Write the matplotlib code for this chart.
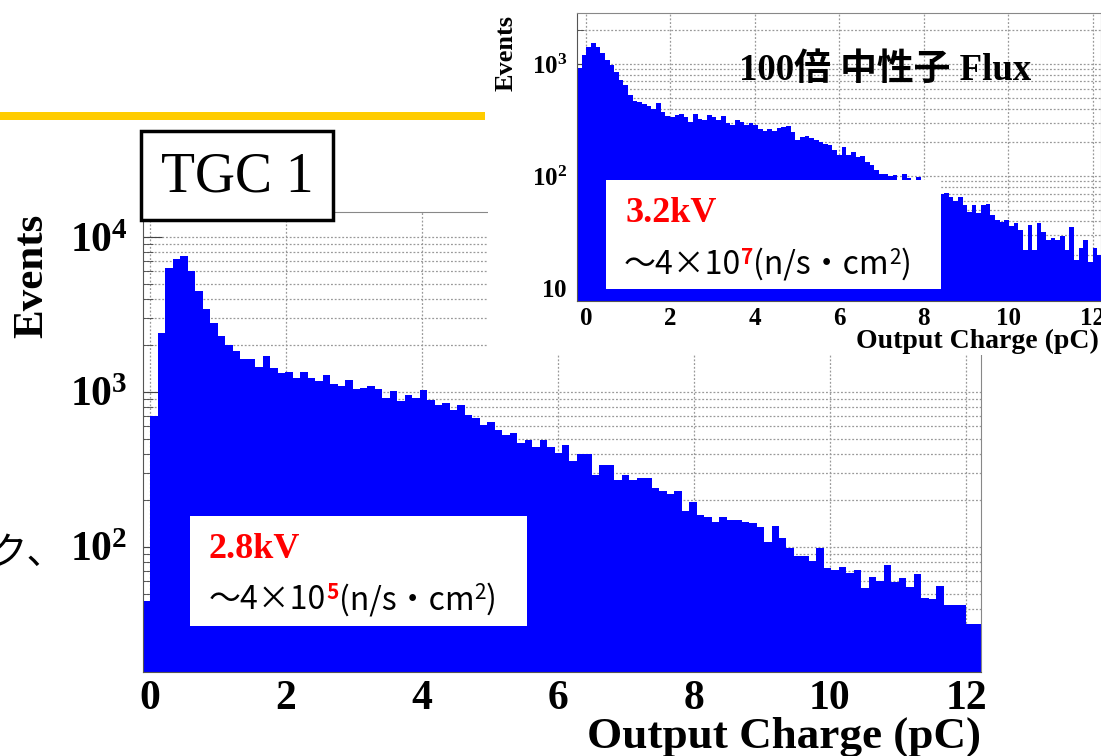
import numpy as np
import matplotlib
matplotlib.use('Agg')
import matplotlib.pyplot as plt
from matplotlib.patches import Rectangle
from matplotlib.ticker import LogLocator, FuncFormatter, NullFormatter, MultipleLocator

plt.rcParams['font.family'] = ['Liberation Serif', 'Noto Sans CJK JP']
plt.rcParams['font.weight'] = 'bold'
plt.rcParams['mathtext.fontset'] = 'custom'
plt.rcParams['mathtext.bf'] = 'Liberation Serif:bold'
plt.rcParams['mathtext.rm'] = 'Liberation Serif:bold'

# main histogram (2.8kV), bin width 0.11 pC starting at -0.1 pC
main_start = -0.1
main_counts = [45, 700, 2400, 6300, 7200, 7500, 6000, 4500, 3430, 2800,
               2300, 2000, 1850, 1640, 1640, 1450, 1700, 1430, 1330, 1340,
               1230, 1340, 1230, 1180, 1290, 1130, 1100, 1200, 1050, 1060,
               1090, 1050, 920, 1010, 880, 960, 910, 1030, 890, 820,
               850, 770, 820, 710, 680, 610, 640, 570, 530, 540,
               470, 490, 440, 490, 440, 404, 455, 360, 400, 395,
               290, 340, 340, 270, 290, 270, 280, 280, 240, 230,
               220, 230, 170, 195, 160, 155, 145, 157, 150, 150,
               145, 143, 135, 108, 137, 115, 98, 88, 88, 81,
               98, 73, 71, 74, 68, 71, 54, 64, 60, 76,
               59, 63, 55, 67, 47, 46, 56, 42, 42, 42,
               32, 32]

# inset histogram (3.2kV, 100x neutron flux)
inset_start = -0.21
inset_counts = [915, 1200, 1430, 1530, 1430, 1250, 1085, 980, 855, 720,
                650, 530, 470, 460, 440, 420, 400, 445, 375, 345,
                335, 350, 360, 335, 305, 360, 320, 315, 350, 335,
                315, 345, 300, 285, 315, 305, 285, 295, 285, 265,
                255, 265, 255, 270, 275, 280, 245, 210, 225, 228,
                217, 210, 203, 195, 189, 170, 155, 183, 155, 165,
                149, 151, 134, 126, 113, 105, 104, 100, 102, 92,
                104, 97, 92, 99, 89, 85, 80, 75, 70, 71,
                65, 60, 65, 55, 48, 55, 47, 55, 57, 45,
                41, 39, 41, 36, 38, 33, 22, 37, 22, 38,
                32, 27, 28, 27, 29, 22, 35, 18, 23, 27,
                17, 23, 20]
bin_w = 0.11

W, H = 1101, 756


def fx(px):
    return px / W


def fy(py):
    return 1 - py / H


def box(x0, y0, x1, y1):
    return [fx(x0), fy(y1), fx(x1) - fx(x0), fy(y0) - fy(y1)]


def log_fmt(v, pos):
    e = int(round(np.log10(v)))
    if e == 1:
        return r'$\mathbf{10}$'
    return r'$\mathbf{10^{%d}}$' % e


def style(ax, fs, major_len, minor_len, pad_x, pad_y):
    ax.set_yscale('log')
    ax.yaxis.set_major_locator(LogLocator(base=10, numticks=20))
    ax.yaxis.set_minor_locator(LogLocator(base=10, subs=np.arange(2, 10), numticks=20))
    ax.yaxis.set_major_formatter(FuncFormatter(log_fmt))
    ax.yaxis.set_minor_formatter(NullFormatter())
    ax.xaxis.set_major_locator(MultipleLocator(2))
    ax.xaxis.set_minor_locator(MultipleLocator(0.5))
    ax.tick_params(which='both', direction='in', color='#444444', labelsize=fs)
    ax.tick_params(which='major', length=major_len)
    ax.tick_params(which='minor', length=minor_len)
    ax.tick_params(axis='x', pad=pad_x)
    ax.tick_params(axis='y', pad=pad_y)
    ax.grid(True, which='major', axis='x', ls=(0, (1.5, 1.5)), color='#999999', lw=0.9)
    ax.grid(True, which='both', axis='y', ls=(0, (1.5, 1.5)), color='#999999', lw=0.9)
    ax.set_axisbelow(True)
    for s in ax.spines.values():
        s.set_color('#888888')
    ax.spines['left'].set_color('#555555')
    ax.spines['bottom'].set_color('#555555')


fig = plt.figure(figsize=(W / 100, H / 100), dpi=100)

# slide decoration behind the plots
fig.add_artist(Rectangle((0, fy(120)), fx(485), fy(112) - fy(120),
                         color='#ffcc00', lw=0, zorder=1))
fig.text(fx(64), fy(553), 'ク、', family='Noto Sans CJK JP', weight='normal',
         fontsize=27, ha='right', va='center')

# main plot
ax = fig.add_axes(box(143, 212, 981, 672))
edges = main_start + bin_w * np.arange(len(main_counts) + 1)
ax.stairs(main_counts, edges, baseline=1, fill=True, color='#0000ff')
style(ax, 30, 14, 7, 6, 11)
ax.set_xlim(-0.1, 12.22)
ax.set_ylim(15.6, 14500)
fig.text(fx(32), fy(276), 'Events', rotation=90, fontsize=31,
         ha='center', va='center')
fig.text(fx(981), fy(737), 'Output Charge (pC)', fontsize=32.5,
         ha='right', va='center')

# white panel holding the inset
fig.add_artist(Rectangle((fx(488), fy(355)), 1 - fx(488), fy(0) - fy(355),
                         color='white', lw=0, zorder=1.5))

ax2 = fig.add_axes(box(577, 13, 1101, 301))
ax2.set_zorder(2)
edges2 = inset_start + bin_w * np.arange(len(inset_counts) + 1)
ax2.stairs(inset_counts, edges2, baseline=1, fill=True, color='#0000ff')
style(ax2, 18, 9, 5, 4, 7)
ax2.set_xlim(-0.21, 12.2)
ax2.set_ylim(7.7, 2850)
fig.text(fx(506), fy(53), 'Events', rotation=90, fontsize=19,
         ha='center', va='center', zorder=4)
fig.text(fx(1099), fy(341), 'Output Charge (pC)', fontsize=20,
         ha='right', va='center', zorder=4)
fig.text(fx(885), fy(70), '100倍 中性子 Flux', fontsize=26.5,
         ha='center', va='center', zorder=4)

# TGC 1 label box
fig.add_artist(Rectangle((fx(141), fy(220)), fx(333) - fx(141), fy(131) - fy(220),
                         facecolor='white', edgecolor='black', lw=2.5, zorder=3))
fig.text(fx(237), fy(178), 'TGC 1', family='Liberation Serif', weight='normal',
         fontsize=40, ha='center', va='center', zorder=4)

# annotation boxes
fig.add_artist(Rectangle((fx(190), fy(626)), fx(527) - fx(190), fy(516) - fy(626),
                         color='white', lw=0, zorder=3))
fig.add_artist(Rectangle((fx(606), fy(289)), fx(941) - fx(606), fy(180) - fy(289),
                         color='white', lw=0, zorder=3))
fig.text(fx(209), fy(549), '2.8kV', color='red', fontsize=26,
         ha='left', va='center', zorder=4)
fig.text(fx(625), fy(214), '3.2kV', color='red', fontsize=26,
         ha='left', va='center', zorder=4)


def chain(pieces, x0, base):
    r = fig.canvas.get_renderer()
    x = x0
    for s, color, size, weight, rise in pieces:
        t = fig.text(fx(x), fy(base - rise), s, color=color, fontsize=size,
                     family='Noto Sans CJK JP', weight=weight,
                     ha='left', va='baseline', zorder=4)
        x += t.get_window_extent(r).width


def flux_line(exp):
    return [('～4×10', 'black', 23, 'normal', 0),
            (exp, 'red', 15, 'bold', 10),
            ('(n/s・cm', 'black', 23, 'normal', 0),
            ('2', 'black', 15, 'normal', 10),
            (')', 'black', 23, 'normal', 0)]


chain(flux_line('5'), 209, 609)
chain(flux_line('7'), 624, 274)

fig.savefig('out.png', dpi=100, facecolor='white')
